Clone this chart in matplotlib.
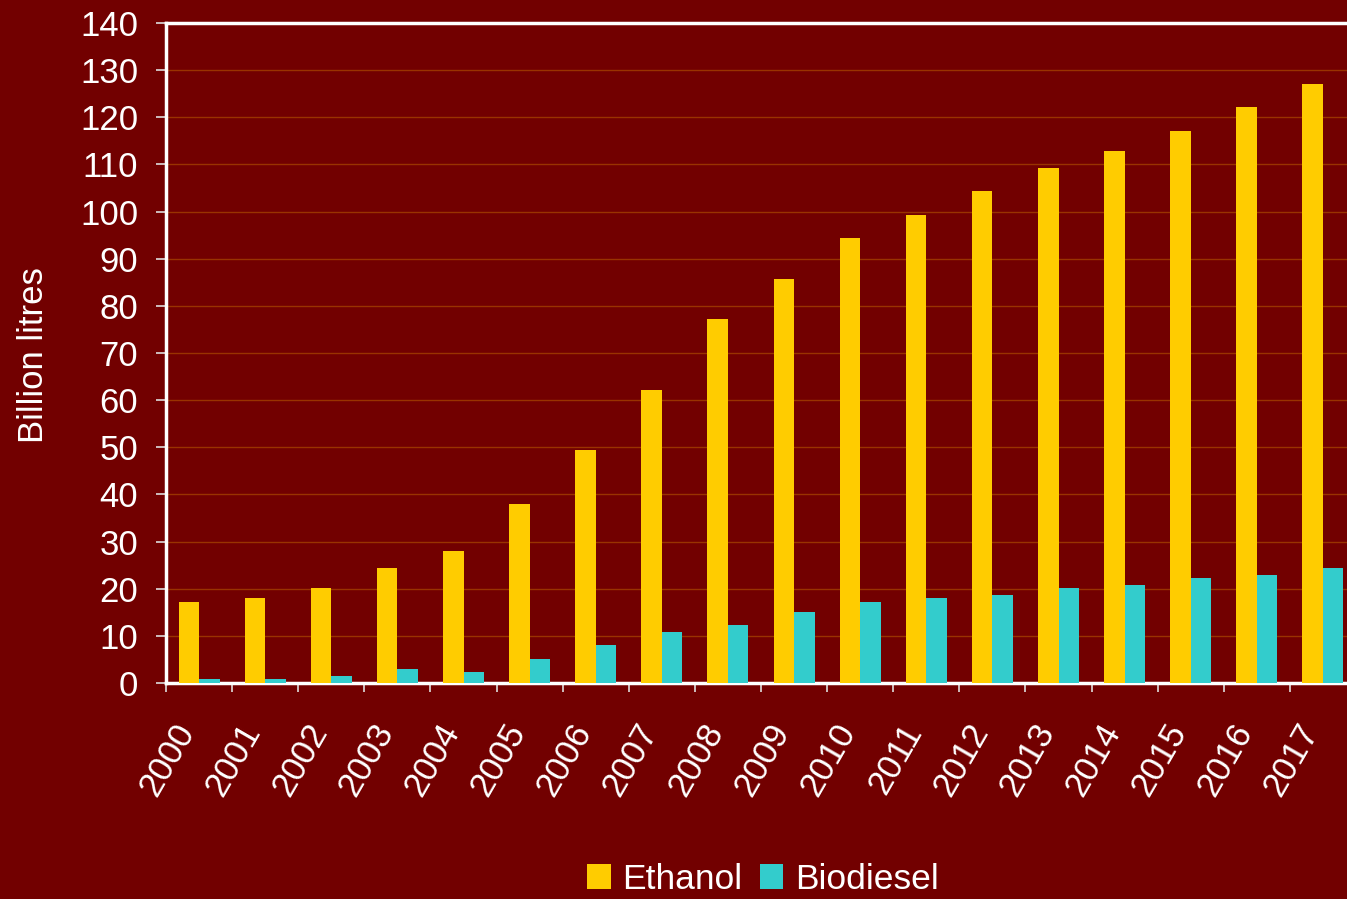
import numpy as np
import matplotlib.pyplot as plt
import matplotlib.transforms as mtransforms

# --- DATA (billion litres) ---
years = [str(y) for y in range(2000, 2018)]
ethanol = [17.2, 18.0, 20.2, 24.4, 28.0, 38.0, 49.4, 62.2, 77.2, 85.7,
           94.4, 99.3, 104.4, 109.2, 112.9, 117.1, 122.2, 127.1]
biodiesel = [0.8, 0.8, 1.5, 3.0, 2.3, 5.1, 8.1, 10.8, 12.3, 15.1,
             17.2, 18.0, 18.7, 20.2, 20.8, 22.3, 22.9, 24.4]
y_ticks = list(range(0, 141, 10))

# --- STYLE ---
BG = '#720000'
ETH_COLOR = '#FFCC00'
BIO_COLOR = '#33CCCC'
GRID_COLOR = '#993300'
plt.rcParams['font.family'] = ['Liberation Sans', 'DejaVu Sans']

fig = plt.figure(figsize=(13.47, 8.99), dpi=100, facecolor=BG)
# axes runs a little past the right edge, as in the original
ax = fig.add_axes([166 / 1347, 1 - 683 / 899, 1190 / 1347, 660 / 899])
ax.set_facecolor(BG)

x = np.arange(len(years))
w = 0.31
ax.bar(x - w / 2, ethanol, width=w, color=ETH_COLOR, label='Ethanol', zorder=3)
ax.bar(x + w / 2, biodiesel, width=w, color=BIO_COLOR, label='Biodiesel', zorder=3)

ax.set_xlim(-0.5, len(years) - 0.5)
ax.set_ylim(0, 140)
ax.set_yticks(y_ticks)
ax.yaxis.grid(True, color=GRID_COLOR, linewidth=1.0, zorder=0)
ax.set_axisbelow(True)

# labels at group centres, tick marks at group boundaries
ax.set_xticks(x)
ax.set_xticklabels(years, rotation=60, ha='right', va='center',
                   rotation_mode='anchor')
ax.set_xticks(np.arange(len(years) + 1) - 0.5, minor=True)
ax.tick_params(axis='x', which='major', length=0, pad=31, labelsize=25,
               labelcolor='white')
ax.tick_params(axis='x', which='minor', length=6.5, width=1.2, color='#dddddd',
               direction='out')
ax.tick_params(axis='y', length=7, width=1.2, color='#dddddd', direction='out',
               labelsize=25, labelcolor='white', pad=13)

# nudge the rotated year labels a bit to the left
shift = mtransforms.ScaledTranslation(-12 / 100, 0, fig.dpi_scale_trans)
for lab in ax.get_xticklabels():
    lab.set_transform(lab.get_transform() + shift)

for side in ['left', 'bottom', 'top']:
    ax.spines[side].set_color('white')
    ax.spines[side].set_linewidth(2.5)
ax.spines['right'].set_visible(False)

fig.text(34 / 1347, 1 - 355 / 899, 'Billion litres', rotation=90,
         ha='center', va='center', color='white', fontsize=25)

leg = fig.legend(loc='lower center', bbox_to_anchor=(763 / 1347, -0.012), ncol=2,
                 frameon=False, fontsize=25.5, handlelength=0.66, handleheight=0.7,
                 handletextpad=0.33, columnspacing=0.5, borderaxespad=0)
for t in leg.get_texts():
    t.set_color('white')

fig.savefig('out.png', dpi=100, facecolor=BG)
